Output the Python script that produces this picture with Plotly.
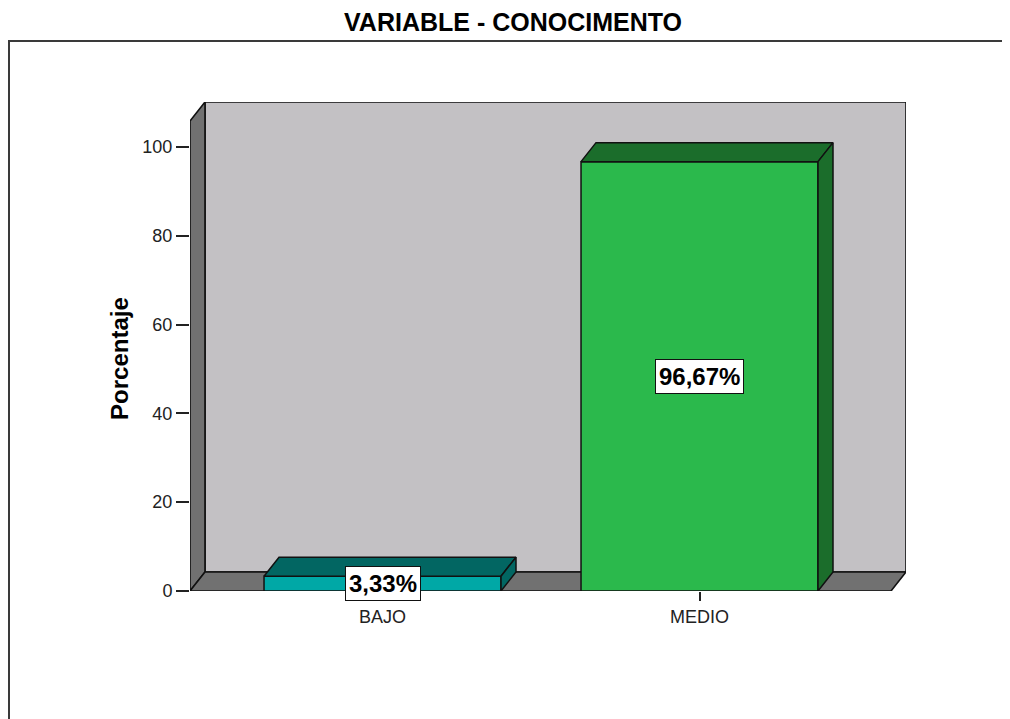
"""Gráfico de barras 3D (estilo SPSS): VARIABLE - CONOCIMENTO."""
import plotly.graph_objects as go

# Datos
categorias = ["BAJO", "MEDIO"]
porcentajes = [3.33, 96.67]
ticks_y = [0, 20, 40, 60, 80, 100]
titulo = "VARIABLE - CONOCIMENTO"
titulo_y = "Porcentaje"

# Estilo
_FUENTE = "Arial, Liberation Sans, sans-serif"
_FRENTE = ["#00A8A6", "#2BB94C"]
_TECHO = ["#026662", "#1B6D2B"]
_PARED_FONDO = "#C3C1C4"
_PARED_LADO = "#717171"
_BORDE = "#111111"

_ANCHO = 0.7476      # ancho de barra (unidades de categoría)
_DX = 0.0473         # profundidad 3D en x
_DY = 4.28           # profundidad 3D en y (unidades de %)
_X0, _X1 = -0.6073, 1.6514
_YTOP = 110.1

fig = go.Figure()

# Paredes y piso
pared_izq = f"M {_X0},0 L {_X0},{_YTOP - _DY} L {_X0 + _DX},{_YTOP} L {_X0 + _DX},{_DY} Z"
piso = f"M {_X0},0 L {_X1 - _DX},0 L {_X1},{_DY} L {_X0 + _DX},{_DY} Z"
fondo = f"M {_X0 + _DX},{_DY} L {_X0 + _DX},{_YTOP} L {_X1},{_YTOP} L {_X1},{_DY} Z"
formas = []
for path, color in [(fondo, _PARED_FONDO), (pared_izq, _PARED_LADO), (piso, _PARED_LADO)]:
    formas.append(dict(type="path", path=path, xref="x", yref="y", layer="below",
                       fillcolor=color, line=dict(color=_BORDE, width=1.6)))

# Marco exterior
formas.append(dict(type="rect", xref="paper", yref="paper",
                   x0=-0.2528, x1=1.25, y0=-0.35, y1=1.1247,
                   line=dict(color="#3a3a3a", width=2), fillcolor="rgba(0,0,0,0)"))

xs = list(range(len(categorias)))

# Caras frontales
fig.add_trace(go.Bar(
    x=xs, y=porcentajes, width=_ANCHO,
    marker=dict(color=_FRENTE, line=dict(color=_BORDE, width=1.5)),
    hoverinfo="skip", showlegend=False,
))

# Techo y lateral de cada barra
for x, v, techo in zip(xs, porcentajes, _TECHO):
    izq, der = x - _ANCHO / 2, x + _ANCHO / 2
    fig.add_trace(go.Scatter(
        x=[izq, der, der + _DX, izq + _DX, izq],
        y=[v, v, v + _DY, v + _DY, v],
        mode="lines", fill="toself", fillcolor=techo,
        line=dict(color=_BORDE, width=1.5), hoverinfo="skip", showlegend=False,
    ))
    fig.add_trace(go.Scatter(
        x=[der, der, der + _DX, der + _DX, der],
        y=[0, v, v + _DY, _DY, 0],
        mode="lines", fill="toself", fillcolor=techo,
        line=dict(color=_BORDE, width=1.5), hoverinfo="skip", showlegend=False,
    ))

# Etiquetas de valor
anots = []
for x, v in zip(xs, porcentajes):
    anots.append(dict(
        x=x, y=v / 2, xref="x", yref="y", showarrow=False,
        text=f"<b>{v:.2f}%</b>".replace(".", ","),
        font=dict(family=_FUENTE, size=24, color="black"),
        bgcolor="white", bordercolor=_BORDE, borderwidth=1, borderpad=3,
    ))
anots.append(dict(
    x=-0.0978, y=0.4765, xref="paper", yref="paper", showarrow=False,
    text=f"<b>{titulo_y}</b>", textangle=-90, xanchor="center", yanchor="middle",
    font=dict(family=_FUENTE, size=24, color="black"),
))

# La página añade 8 px de margen: se compensa en los márgenes
fig.update_layout(
    width=1010, height=719, autosize=False,
    margin=dict(l=182, r=112, t=94, b=136),
    paper_bgcolor="white", plot_bgcolor="white",
    title=dict(text=f"<b>{titulo}</b>", x=505 / 1010, y=1 - 14 / 719,
               xanchor="center", yanchor="middle", xref="container", yref="container",
               font=dict(family=_FUENTE, size=25, color="black")),
    xaxis=dict(range=[_X0, _X1], tickvals=xs, ticktext=categorias,
               showgrid=False, zeroline=False, showline=False,
               ticks="outside", ticklen=9, tickcolor="#222", tickwidth=1.5,
               tickfont=dict(family=_FUENTE, size=18, color="#222")),
    yaxis=dict(range=[0, _YTOP], tickvals=ticks_y,
               showgrid=False, zeroline=False, showline=False,
               ticks="outside", ticklen=13, tickcolor="#222", tickwidth=1.5,
               tickfont=dict(family=_FUENTE, size=18, color="#222")),
    shapes=formas, annotations=anots,
)

fig.write_html("out.html")
